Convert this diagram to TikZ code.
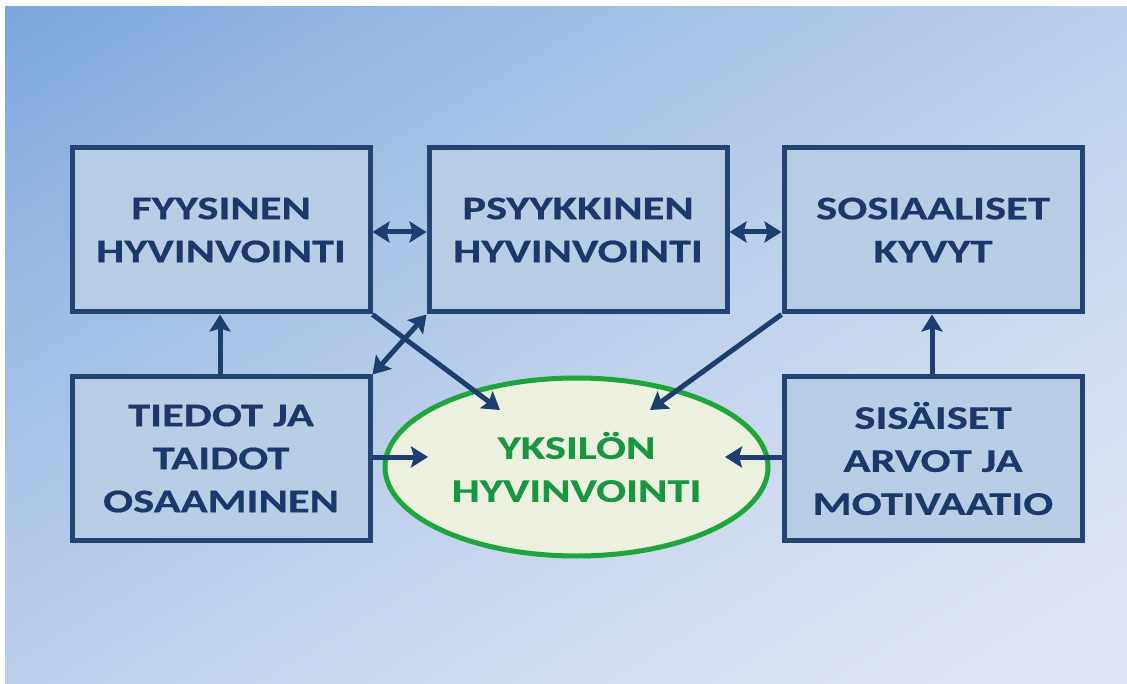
\documentclass[tikz,border=0pt]{standalone}
\usepackage{fontspec}
\newfontfamily\lblfont{Carlito}[FakeStretch=1.35,FakeBold=0.5]
\usetikzlibrary{arrows.meta,shapes.geometric}
\definecolor{boxfill}{RGB}{185,205,229}
\definecolor{boxline}{RGB}{38,68,115}
\definecolor{txtblue}{RGB}{28,55,105}
\definecolor{arrowblue}{RGB}{30,62,112}
\definecolor{ellfill}{RGB}{237,241,223}
\definecolor{ellline}{RGB}{30,165,60}
\definecolor{elltext}{RGB}{25,150,65}
\pgfdeclarefunctionalshading{bgshade}{\pgfpoint{0bp}{0bp}}{\pgfpoint{100bp}{100bp}}{}{
  25 sub 50 div neg 1 add exch 25 sub 50 div add 2 div
  dup 0 lt {pop 0} if dup 1 gt {pop 1} if
  dup 0.56 mul neg 1.56 add mul
  dup 101 mul 123 add 255 div exch
  dup 64 mul 166 add 255 div exch
  22 mul 221 add 255 div
}
\begin{document}
\begin{tikzpicture}[x=1pt,y=-1pt,
  lbl/.style={font=\lblfont\bfseries\fontsize{33}{43}\selectfont, align=center},
  box/.style={lbl, draw=boxline, line width=5pt, fill=boxfill, minimum width=298pt, minimum height=164pt, text=txtblue, inner sep=0pt},
  ell/.style={lbl, ellipse, draw=ellline, line width=5pt, fill=ellfill, minimum width=383pt, minimum height=178pt, inner sep=0pt, text=elltext},
  tip/.tip={Stealth[length=17pt,width=21pt,inset=3pt]},
  conn/.style={draw=arrowblue, line width=5pt, -tip},
  biconn/.style={draw=arrowblue, line width=5pt, tip-tip}
]
\useasboundingbox (0,0) rectangle (1127,684);
\fill[white] (0,0) rectangle (1127,684);
\shade[shading=bgshade] (5,7) rectangle (1127,684);

\node[box] (fy) at (221,230) {FYYSINEN\\HYVINVOINTI};
\node[box] (ps) at (578,230) {PSYYKKINEN\\HYVINVOINTI};
\node[box] (so) at (933,230) {SOSIAALISET\\KYVYT};
\node[box, minimum height=163pt] (ti) at (221,458.5) {TIEDOT JA\\TAIDOT\\OSAAMINEN};
\node[box, minimum height=163pt] (si) at (933,458.5) {SISÄISET\\ARVOT JA\\MOTIVAATIO};
\node[ell] (yk) at (576.5,467) {YKSILÖN\\HYVINVOINTI};

\coordinate (e1) at (500,410);
\coordinate (e2) at (650,410);
\coordinate (e3) at (428,457);
\coordinate (e4) at (725,457);

\draw[biconn] (fy.east |- 0,232) -- (ps.west |- 0,232);
\draw[biconn] (ps.east |- 0,232) -- (so.west |- 0,232);
\draw[conn] (ti.north -| 220,0) -- (fy.south -| 220,0);
\draw[conn] (si.north -| 932,0) -- (so.south -| 932,0);
\draw[conn] (fy.south east) -- (e1);
\draw[conn] (so.south west) -- (e2);
\draw[biconn] (ti.north east) -- (ps.south west);
\draw[conn] (ti.east |- e3) -- (e3);
\draw[conn] (si.west |- e4) -- (e4);
\end{tikzpicture}
\end{document}
